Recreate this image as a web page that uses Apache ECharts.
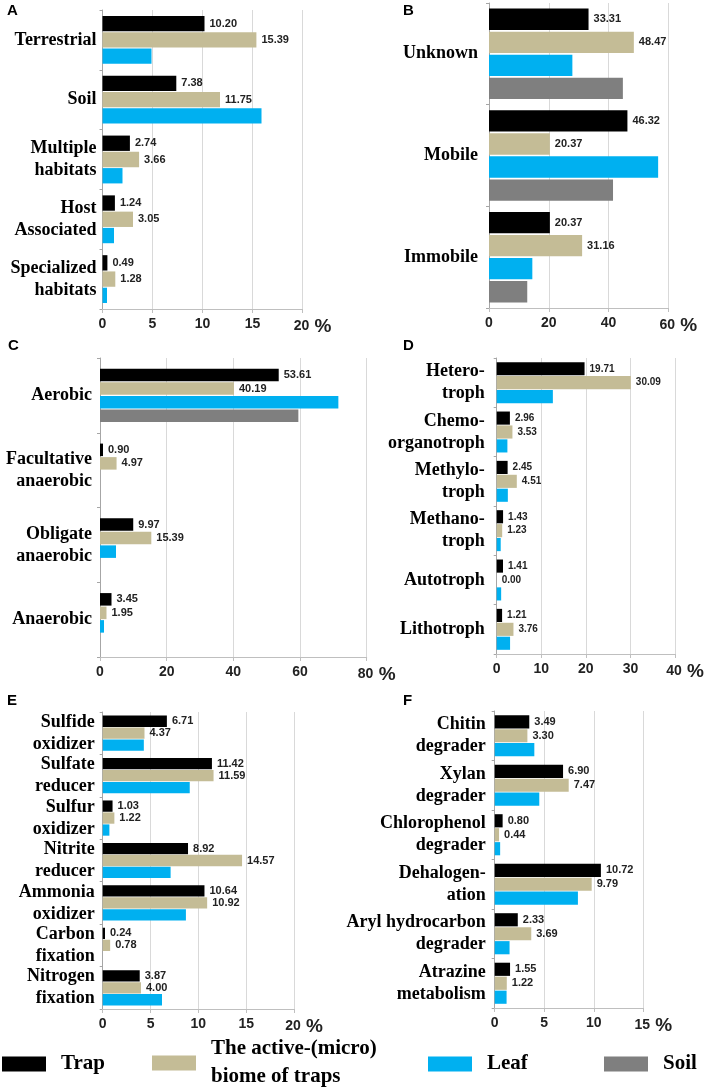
<!DOCTYPE html>
<html>
<head>
<meta charset="utf-8">
<script src="https://cdn.jsdelivr.net/npm/echarts@6/dist/echarts.min.js"></script>
<style>html,body{margin:0;padding:0;background:#fff}#chart{width:708px;height:1089px}</style>
</head>
<body>
<div id="chart"></div>
<script>
const chart = echarts.init(document.getElementById('chart'))

var names = ['Trap', 'The active-(micro)\nbiome of traps', 'Leaf', 'Soil']
var colors = ['#000000', '#c4bc96', '#00b0f0', '#7f7f7f']

// A - habitat
var catsA = ['Terrestrial', 'Soil', 'Multiple\nhabitats', 'Host\nAssociated', 'Specialized\nhabitats']
var trapA = [10.20, 7.38, 2.74, 1.24, 0.49]
var activeA = [15.39, 11.75, 3.66, 3.05, 1.28]
var leafA = [4.9, 15.9, 2.0, 1.15, 0.45]
var ticksA = [0, 5, 10, 15, 20]

// B - motility
var catsB = ['Unknown', 'Mobile', 'Immobile']
var trapB = [33.31, 46.32, 20.37]
var activeB = [48.47, 20.37, 31.16]
var leafB = [27.9, 56.6, 14.5]
var soilB = [44.8, 41.5, 12.8]
var ticksB = [0, 20, 40, 60]

// C - oxygen
var catsC = ['Aerobic', 'Facultative\nanaerobic', 'Obligate\nanaerobic', 'Anaerobic']
var trapC = [53.61, 0.90, 9.97, 3.45]
var activeC = [40.19, 4.97, 15.39, 1.95]
var leafC = [71.5, 0, 4.8, 1.2]
var soilC = [59.5, 0, 0, 0]
var ticksC = [0, 20, 40, 60, 80]

// D - energy source
var catsD = ['Hetero-\ntroph', 'Chemo-\norganotroph', 'Methylo-\ntroph', 'Methano-\ntroph', 'Autotroph', 'Lithotroph']
var trapD = [19.71, 2.96, 2.45, 1.43, 1.41, 1.21]
var activeD = [30.09, 3.53, 4.51, 1.23, 0.00, 3.76]
var leafD = [12.6, 2.4, 2.5, 0.9, 1.0, 3.0]
var ticksD = [0, 10, 20, 30, 40]

// E - N and S metabolism
var catsE = ['Sulfide\noxidizer', 'Sulfate\nreducer', 'Sulfur\noxidizer', 'Nitrite\nreducer', 'Ammonia\noxidizer', 'Carbon\nfixation', 'Nitrogen\nfixation']
var trapE = [6.71, 11.42, 1.03, 8.92, 10.64, 0.24, 3.87]
var activeE = [4.37, 11.59, 1.22, 14.57, 10.92, 0.78, 4.00]
var leafE = [4.3, 9.1, 0.7, 7.1, 8.7, 0, 6.2]
var ticksE = [0, 5, 10, 15, 20]

// F - degradation
var catsF = ['Chitin\ndegrader', 'Xylan\ndegrader', 'Chlorophenol\ndegrader', 'Dehalogen-\nation', 'Aryl hydrocarbon\ndegrader', 'Atrazine\nmetabolism']
var trapF = [3.49, 6.90, 0.80, 10.72, 2.33, 1.55]
var activeF = [3.30, 7.47, 0.44, 9.79, 3.69, 1.22]
var leafF = [4.0, 4.5, 0.55, 8.4, 1.5, 1.2]
var ticksF = [0, 5, 10, 15]

var panels = [
    {letter: 'A', at: [7, 3], box: [102.5, 10, 200, 299], cats: catsA, vals: [trapA, activeA, leafA], ticks: ticksA, catGap: '20%', gap: '6%', margin: 6},
    {letter: 'B', at: [403, 3], box: [489, 3, 179.3, 305], cats: catsB, vals: [trapB, activeB, leafB, soilB], ticks: ticksB, catGap: '11%', gap: '8%', margin: 11},
    {letter: 'C', at: [8, 338], box: [100, 358, 266.7, 299], cats: catsC, vals: [trapC, activeC, leafC, soilC], ticks: ticksC, catGap: '29%', gap: '8%', margin: 8},
    {letter: 'D', at: [403, 338], box: [496.7, 358, 178.3, 296], cats: catsD, vals: [trapD, activeD, leafD], ticks: ticksD, catGap: '17%', gap: '6%', margin: 12, lbl: 10},
    {letter: 'E', at: [7, 693], box: [102.7, 712, 191.3, 297], cats: catsE, vals: [trapE, activeE, leafE], ticks: ticksE, catGap: '17%', gap: '6%', margin: 8},
    {letter: 'F', at: [403, 693], box: [494.7, 711, 148.6, 297], cats: catsF, vals: [trapF, activeF, leafF], ticks: ticksF, catGap: '17%', gap: '6%', margin: 9}
]

var grid = [], xAxis = [], yAxis = [], series = [], title = []

panels.forEach(function (p, k) {
    var t = p.ticks
    var top = t[t.length - 1]
    title.push({
        text: p.letter, left: p.at[0], top: p.at[1], padding: 0,
        textStyle: {fontFamily: 'Liberation Sans', fontWeight: 'bold', fontSize: 15, color: '#000'}
    })
    grid.push({left: p.box[0], top: p.box[1], width: p.box[2], height: p.box[3]})
    xAxis.push({
        gridIndex: k, type: 'value', min: t[0], max: top, interval: t[1] - t[0],
        axisLine: {show: true, lineStyle: {color: '#bfbfbf'}},
        axisTick: {show: true, length: 4, lineStyle: {color: '#bfbfbf'}},
        splitLine: {show: true, lineStyle: {color: '#d9d9d9'}},
        axisLabel: {
            margin: 8, color: '#222', fontFamily: 'Liberation Sans', fontWeight: 'bold', fontSize: 14,
            formatter: function (v) {
                return v === top ? '{s|}' + v + '{p| %}' : '' + v
            },
            rich: {
                s: {width: 20},
                p: {fontSize: 19, fontFamily: 'Liberation Sans', fontWeight: 'bold', color: '#222'}
            }
        }
    })
    yAxis.push({
        gridIndex: k, type: 'category', inverse: true, data: p.cats,
        axisLine: {show: true, lineStyle: {color: '#a6a6a6'}},
        axisTick: {show: true, length: 3, lineStyle: {color: '#a6a6a6'}},
        splitLine: {show: false},
        axisLabel: {interval: 0, margin: p.margin, color: '#000', fontFamily: 'Liberation Serif', fontWeight: 'bold', fontSize: 18, lineHeight: 22}
    })
    p.vals.forEach(function (d, i) {
        series.push({
            type: 'bar', name: names[i], xAxisIndex: k, yAxisIndex: k, data: d,
            barCategoryGap: p.catGap, barGap: p.gap,
            itemStyle: {color: colors[i]},
            label: {
                show: i < 2, position: 'right', distance: 5, color: '#222',
                fontFamily: 'Liberation Sans', fontWeight: 'bold', fontSize: p.lbl || 11,
                formatter: function (o) { return o.value.toFixed(2) }
            }
        })
    })
})

var legendLeft = [2, 152, 428, 604]
var legend = names.map(function (n, i) {
    return {
        data: [n], left: legendLeft[i], top: i === 1 ? 1035 : 1050, padding: 0,
        itemWidth: 44, itemHeight: 15, icon: 'rect', selectedMode: false,
        textStyle: {fontFamily: 'Liberation Serif', fontWeight: 'bold', fontSize: 21, color: '#000', lineHeight: 28, padding: [0, 0, 0, 10]}
    }
})

chart.setOption({
    animation: false,
    title: title,
    legend: legend,
    grid: grid,
    xAxis: xAxis,
    yAxis: yAxis,
    series: series
})
</script>
</body>
</html>
